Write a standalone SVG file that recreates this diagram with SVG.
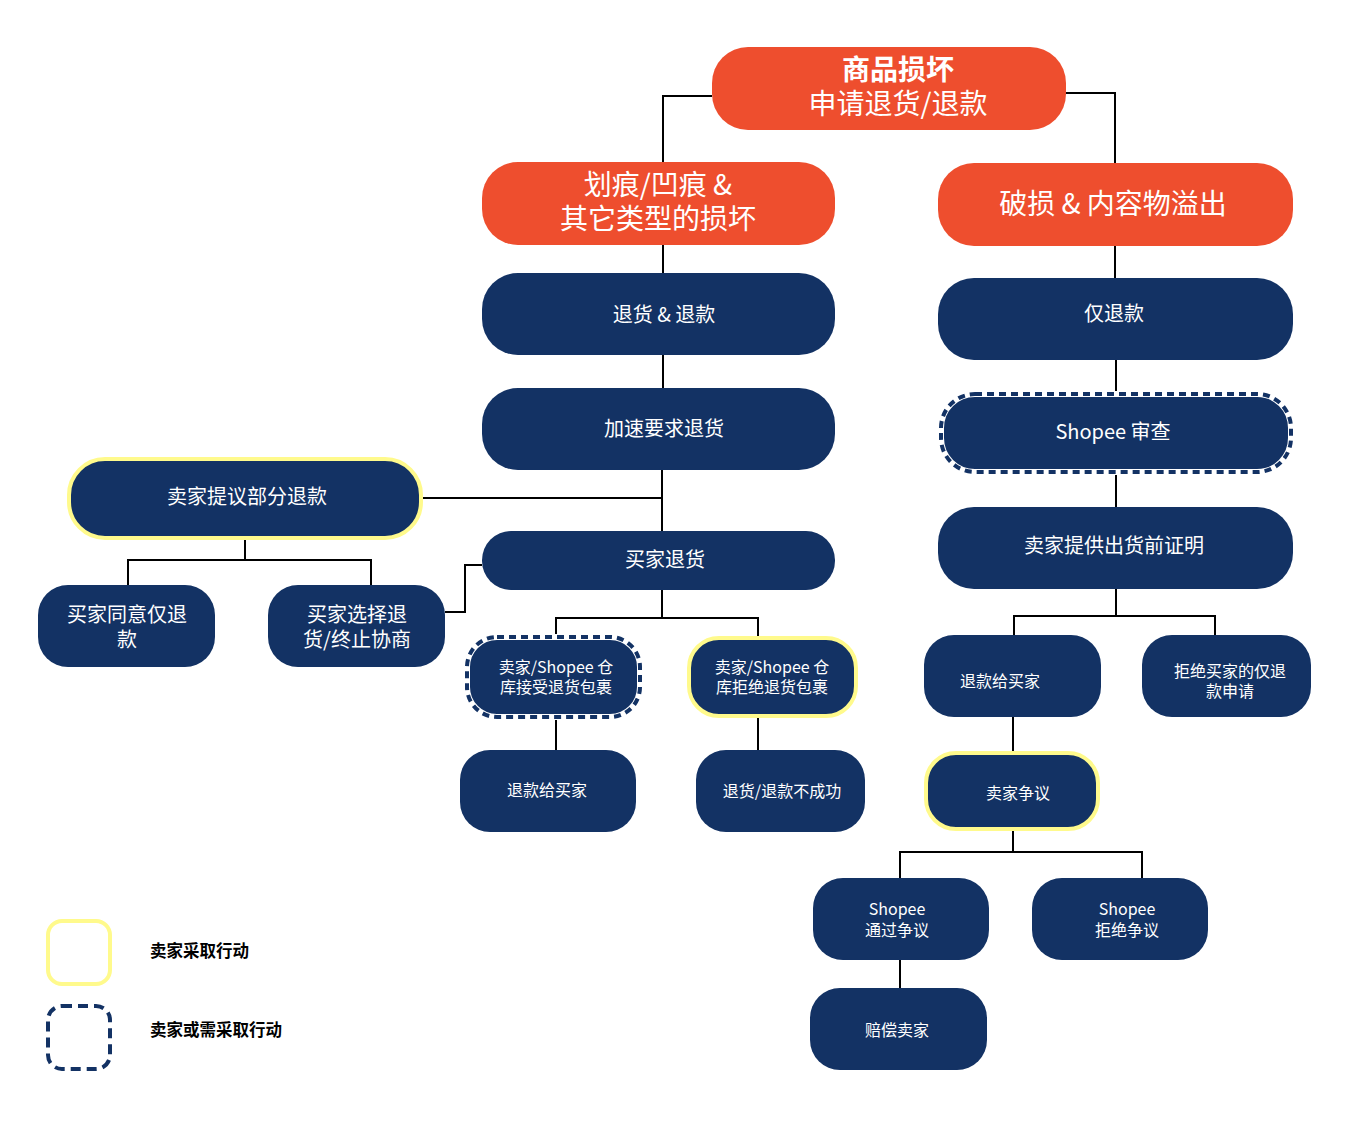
<svg xmlns="http://www.w3.org/2000/svg" width="1360" height="1125" viewBox="0 0 1360 1125">
<style>
.o{fill:#EE4E2E}
.n{fill:#133264}
.y{stroke:#FFFA8C;stroke-width:4}
.dw{fill:#133264;stroke:#ffffff;stroke-width:6}
.dd{fill:none;stroke:#133264;stroke-width:4;stroke-dasharray:7 5}
text{font-family:"Noto Sans CJK SC","Noto Sans",sans-serif;fill:#ffffff;text-anchor:middle}
.t20{font-size:20px}
.t16{font-size:16px}
.t26{font-size:28px}
.c{fill:none;stroke:#000000;stroke-width:2}
.lg{fill:#000000;font-size:16.5px;text-anchor:start;font-weight:600}
</style>
<rect width="1360" height="1125" fill="#ffffff"/>
<g id="connectors">
<polyline class="c" points="712,96 663,96 663,162"/>
<polyline class="c" points="1066,93 1115,93 1115,163"/>
<line class="c" x1="663" y1="245" x2="663" y2="273"/>
<line class="c" x1="663" y1="355" x2="663" y2="388"/>
<line class="c" x1="662" y1="470" x2="662" y2="531"/>
<line class="c" x1="421" y1="498" x2="662" y2="498"/>
<polyline class="c" points="245,538 245,560"/>
<polyline class="c" points="128,585 128,560 371,560 371,585"/>
<polyline class="c" points="445,612 465,612 465,565 482,565"/>
<line class="c" x1="662" y1="590" x2="662" y2="618"/>
<polyline class="c" points="556,637 556,618 758,618 758,637"/>
<line class="c" x1="556" y1="717" x2="556" y2="750"/>
<line class="c" x1="758" y1="717" x2="758" y2="750"/>
<line class="c" x1="1115" y1="246" x2="1115" y2="278"/>
<line class="c" x1="1116" y1="360" x2="1116" y2="393"/>
<line class="c" x1="1116" y1="473" x2="1116" y2="507"/>
<line class="c" x1="1116" y1="589" x2="1116" y2="616"/>
<polyline class="c" points="1014,635 1014,616 1215,616 1215,635"/>
<line class="c" x1="1013" y1="717" x2="1013" y2="752"/>
<line class="c" x1="1013" y1="830" x2="1013" y2="852"/>
<polyline class="c" points="900,878 900,852 1142,852 1142,878"/>
<line class="c" x1="900" y1="960" x2="900" y2="988"/>
</g>
<g id="root"><rect class="o" x="712" y="47" width="354" height="83" rx="36"/>
<text class="t26" x="898" y="80" font-weight="bold">商品损坏</text>
<text class="t26" x="898" y="114">申请退货/退款</text></g>
<g id="scratch"><rect class="o" x="482" y="162" width="353" height="83" rx="36"/>
<text class="t26" x="658" y="195">划痕/凹痕 &amp;</text>
<text class="t26" x="658" y="229">其它类型的损坏</text></g>
<g id="broken"><rect class="o" x="938" y="163" width="355" height="83" rx="36"/>
<text class="t26" x="1113" y="214">破损 &amp; 内容物溢出</text></g>
<g id="return-refund"><rect class="n" x="482" y="273" width="353" height="82" rx="36"/>
<text class="t20" x="664" y="322">退货 &amp; 退款</text></g>
<g id="expedite"><rect class="n" x="482" y="388" width="353" height="82" rx="36"/>
<text class="t20" x="664" y="436">加速要求退货</text></g>
<g id="partial"><rect class="n y" x="69" y="459" width="352" height="79" rx="36"/>
<text class="t20" x="247" y="504">卖家提议部分退款</text></g>
<g id="buyer-return"><rect class="n" x="482" y="531" width="353" height="59" rx="29"/>
<text class="t20" x="665" y="567">买家退货</text></g>
<g id="agree"><rect class="n" x="38" y="585" width="177" height="82" rx="30"/>
<text class="t20" x="127" y="622">买家同意仅退</text>
<text class="t20" x="127" y="647">款</text></g>
<g id="choose"><rect class="n" x="268" y="585" width="177" height="82" rx="30"/>
<text class="t20" x="357" y="622">买家选择退</text>
<text class="t20" x="357" y="647">货/终止协商</text></g>
<g id="accept"><rect class="dw" x="467" y="637" width="173" height="80" rx="30"/><rect class="dd" x="467" y="637" width="173" height="80" rx="30"/>
<text class="t16" x="556" y="673">卖家/Shopee 仓</text>
<text class="t16" x="556" y="693">库接受退货包裹</text></g>
<g id="reject"><rect class="n y" x="689" y="638" width="167" height="78" rx="30"/>
<text class="t16" x="772" y="673">卖家/Shopee 仓</text>
<text class="t16" x="772" y="693">库拒绝退货包裹</text></g>
<g id="refund-left"><rect class="n" x="460" y="750" width="176" height="82" rx="30"/>
<text class="t16" x="547" y="796">退款给买家</text></g>
<g id="fail"><rect class="n" x="696" y="750" width="169" height="82" rx="30"/>
<text class="t16" x="782" y="797">退货/退款不成功</text></g>
<g id="refund-only"><rect class="n" x="938" y="278" width="355" height="82" rx="36"/>
<text class="t20" x="1114" y="321">仅退款</text></g>
<g id="review"><rect class="dw" x="941" y="394" width="350" height="78" rx="34"/><rect class="dd" x="941" y="394" width="350" height="78" rx="34"/>
<text class="t20" x="1113" y="439">Shopee 审查</text></g>
<g id="proof"><rect class="n" x="938" y="507" width="355" height="82" rx="36"/>
<text class="t20" x="1114" y="553">卖家提供出货前证明</text></g>
<g id="refund-right"><rect class="n" x="924" y="635" width="177" height="82" rx="30"/>
<text class="t16" x="1000" y="687">退款给买家</text></g>
<g id="deny"><rect class="n" x="1142" y="635" width="169" height="82" rx="30"/>
<text class="t16" x="1230" y="677">拒绝买家的仅退</text>
<text class="t16" x="1230" y="697">款申请</text></g>
<g id="dispute"><rect class="n y" x="926" y="753" width="172" height="76" rx="30"/>
<text class="t16" x="1018" y="799">卖家争议</text></g>
<g id="pass"><rect class="n" x="813" y="878" width="176" height="82" rx="30"/>
<text class="t16" x="897" y="915">Shopee</text>
<text class="t16" x="897" y="936">通过争议</text></g>
<g id="refuse"><rect class="n" x="1032" y="878" width="176" height="82" rx="30"/>
<text class="t16" x="1127" y="915">Shopee</text>
<text class="t16" x="1127" y="936">拒绝争议</text></g>
<g id="compensate"><rect class="n" x="810" y="988" width="177" height="82" rx="30"/>
<text class="t16" x="897" y="1036">赔偿卖家</text></g>
<g id="legend">
<rect x="48" y="921" width="62" height="63" rx="14" fill="none" stroke="#FFFA8C" stroke-width="4"/>
<rect x="48" y="1006" width="62" height="63" rx="14" fill="none" stroke="#133264" stroke-width="4" stroke-dasharray="10 6"/>
<text class="lg" x="150" y="957">卖家采取行动</text>
<text class="lg" x="150" y="1036">卖家或需采取行动</text>
</g>
</svg>
